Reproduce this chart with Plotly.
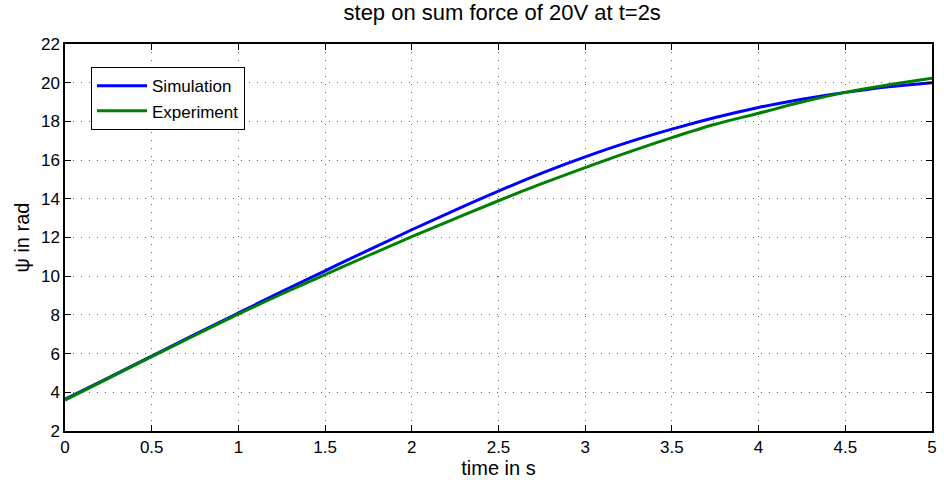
import plotly.graph_objects as go

# time samples [s]
t = [0, 0.25, 0.5, 0.75, 1.0, 1.25, 1.5, 1.75, 2.0, 2.25, 2.5,
     2.75, 3.0, 3.25, 3.5, 3.75, 4.0, 4.25, 4.5, 4.75, 5.0]

# yaw angle psi [rad]
psi_simulation = [3.65, 4.75, 5.87, 6.99, 8.1, 9.2, 10.28, 11.35, 12.4, 13.42, 14.4,
                  15.33, 16.17, 16.93, 17.6, 18.2, 18.72, 19.15, 19.5, 19.79, 20.0]
psi_experiment = [3.6, 4.72, 5.84, 6.95, 8.04, 9.08, 10.08, 11.07, 12.04, 12.98, 13.9,
                  14.78, 15.61, 16.41, 17.16, 17.85, 18.42, 19.0, 19.5, 19.89, 20.23]

x_ticks = [0, 0.5, 1, 1.5, 2, 2.5, 3, 3.5, 4, 4.5, 5]
y_ticks = list(range(2, 23, 2))

font_family = "Liberation Sans, Arial, sans-serif"

fig = go.Figure()
fig.add_trace(go.Scatter(x=t, y=psi_simulation, mode="lines", name="Simulation",
                         line=dict(color="#0000FF", width=3, shape="spline")))
fig.add_trace(go.Scatter(x=t, y=psi_experiment, mode="lines", name="Experiment",
                         line=dict(color="#008000", width=3, shape="spline")))

axis_common = dict(
    showline=True, linecolor="black", linewidth=1.5, mirror="allticks",
    ticks="inside", ticklen=6, tickcolor="black",
    showgrid=True, gridcolor="#666666", griddash="1px,7px", gridwidth=1,
    zeroline=False,
    tickfont=dict(family=font_family, size=17, color="black"),
)

fig.update_layout(
    width=944, height=480,
    margin=dict(l=65, r=7, t=44, b=48),
    paper_bgcolor="white", plot_bgcolor="white",
    title=dict(text="step on sum force of 20V at t=2s", x=0.532, xanchor="center",
               y=0.975, yanchor="middle",
               font=dict(family=font_family, size=22, color="black")),
    xaxis=dict(range=[0, 5], tickvals=x_ticks, ticktext=[f"{v:g}" for v in x_ticks],
               title=dict(text="time in s", standoff=2,
                          font=dict(family=font_family, size=20, color="black")),
               **axis_common),
    yaxis=dict(range=[2, 22], tickvals=y_ticks,
               title=dict(text="ψ in rad", standoff=6,
                          font=dict(family=font_family, size=20, color="black")),
               **axis_common),
    legend=dict(x=0.03, y=0.94, xanchor="left", yanchor="top",
                bgcolor="white", bordercolor="black", borderwidth=1,
                font=dict(family=font_family, size=17, color="black"),
                tracegroupgap=0, itemwidth=50),
    showlegend=True,
)

fig.write_html("out.html")
